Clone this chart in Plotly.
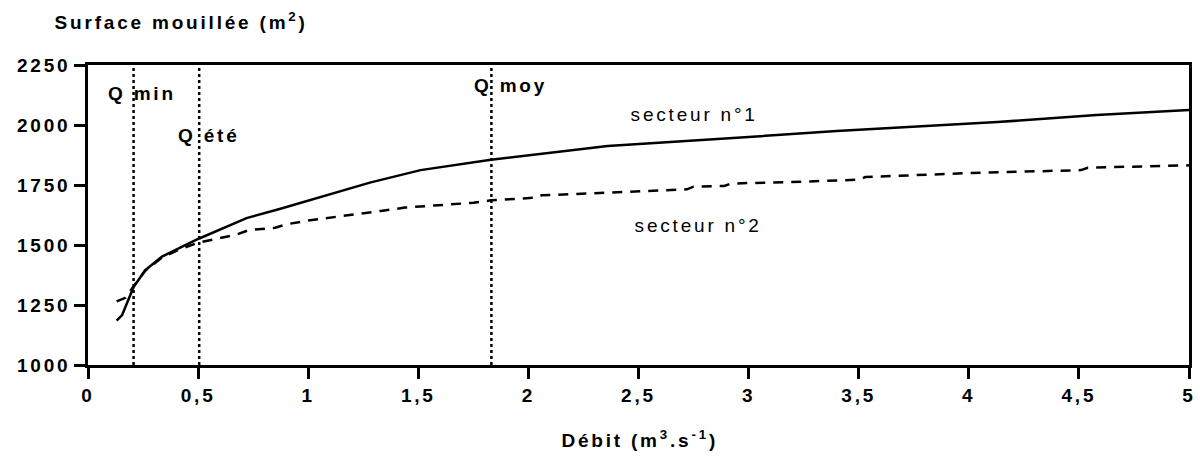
import plotly.graph_objects as go

# ---- data ----
debit_s1 = [0.13, 0.155, 0.207, 0.26, 0.336, 0.42, 0.5, 0.72, 0.87, 1.28, 1.51, 1.83, 2.36, 3.0, 3.4, 4.13, 4.58, 5.0]
surf_s1 = [1185, 1208, 1325, 1395, 1452, 1488, 1525, 1612, 1650, 1760, 1812, 1855, 1912, 1950, 1975, 2012, 2042, 2062]

debit_s2 = [0.13, 0.17, 0.207, 0.26, 0.336, 0.42, 0.5, 0.56, 0.67, 0.73, 0.85, 0.9, 1.0, 1.33, 1.44, 1.75, 1.83,
            2.03, 2.06, 2.72, 2.75, 2.89, 2.92, 3.24, 3.5, 3.53, 4.01, 4.51, 4.54, 5.0]
surf_s2 = [1265, 1280, 1328, 1393, 1448, 1483, 1510, 1522, 1542, 1562, 1572, 1586, 1602, 1642, 1656, 1676, 1686,
           1697, 1707, 1732, 1743, 1746, 1756, 1764, 1772, 1783, 1800, 1812, 1822, 1832]

q_names = ["Q min", "Q été", "Q moy"]
q_values = [0.207, 0.505, 1.832]
q_label_x = [0.245, 0.55, 1.92]
q_label_y = [2130, 1955, 2163]

series_names = ["secteur n°1", "secteur n°2"]
series_label_x = [2.75, 2.77]
series_label_y = [2045, 1580]

x_ticks = [0, 0.5, 1, 1.5, 2, 2.5, 3, 3.5, 4, 4.5, 5]
x_ticktext = ["0", "0,5", "1", "1,5", "2", "2,5", "3", "3,5", "4", "4,5", "5"]
y_ticks = [1000, 1250, 1500, 1750, 2000, 2250]
y_ticktext = ["1000", "1250", "1500", "1750", "2000", "2250"]

FONT = "Liberation Sans, Arial, Helvetica, sans-serif"

fig = go.Figure()
fig.add_trace(go.Scatter(x=debit_s1, y=surf_s1, mode="lines", name=series_names[0],
                         line=dict(color="black", width=2.5), showlegend=False, hoverinfo="skip"))
fig.add_trace(go.Scatter(x=debit_s2, y=surf_s2, mode="lines", name=series_names[1],
                         line=dict(color="black", width=2.5, dash="10px,8px"), showlegend=False, hoverinfo="skip"))

for qv in q_values:
    fig.add_shape(type="line", xref="x", yref="y", x0=qv, x1=qv, y0=y_ticks[0], y1=y_ticks[-1],
                  line=dict(color="black", width=2.5, dash="3px,3px"), layer="above")

for name, lx, ly in zip(q_names, q_label_x, q_label_y):
    fig.add_annotation(x=lx, y=ly, xref="x", yref="y", text=name, showarrow=False,
                       xanchor="center", yanchor="middle",
                       font=dict(family=FONT, size=19, color="black", weight="bold"))

for name, lx, ly in zip(series_names, series_label_x, series_label_y):
    fig.add_annotation(x=lx, y=ly, xref="x", yref="y", text=name, showarrow=False,
                       xanchor="center", yanchor="middle",
                       font=dict(family=FONT, size=19, color="black"))

fig.add_annotation(x=-0.005, y=1.145, xref="paper", yref="paper", text="Surface mouillée (m<sup>2</sup>)",
                   showarrow=False, xanchor="left", yanchor="middle",
                   font=dict(family=FONT, size=19, color="black", weight="bold"))
fig.add_annotation(x=0.501, y=-0.245, xref="paper", yref="paper", text="Débit (m<sup>3</sup>.s<sup>-1</sup>)",
                   showarrow=False, xanchor="center", yanchor="middle",
                   font=dict(family=FONT, size=19, color="black", weight="bold"))

axis_common = dict(showline=True, linecolor="black", linewidth=2.5, mirror=True, ticks="outside",
                   ticklen=11, tickwidth=2.5, tickcolor="black", showgrid=False, zeroline=False,
                   automargin=False,
                   tickfont=dict(family=FONT, size=19, color="black", weight="bold"))

fig.update_xaxes(range=[0, 5], tickvals=x_ticks, ticktext=x_ticktext, **axis_common)
fig.update_yaxes(range=[1000, 2250], tickvals=y_ticks, ticktext=y_ticktext, ticklabelstandoff=0, **axis_common)

fig.update_layout(width=1200, height=463, margin=dict(l=88, r=11, t=65, b=98),
                  paper_bgcolor="white", plot_bgcolor="white",
                  font=dict(family=FONT, color="black"))

post = """
document.body.style.margin = '0';
document.body.style.padding = '0';
var gd = document.getElementById('{plot_id}');
gd.querySelectorAll('text').forEach(function(t){ t.style.letterSpacing = '2.8px'; });
"""
fig.write_html("out.html", post_script=post, config={"displayModeBar": False})
